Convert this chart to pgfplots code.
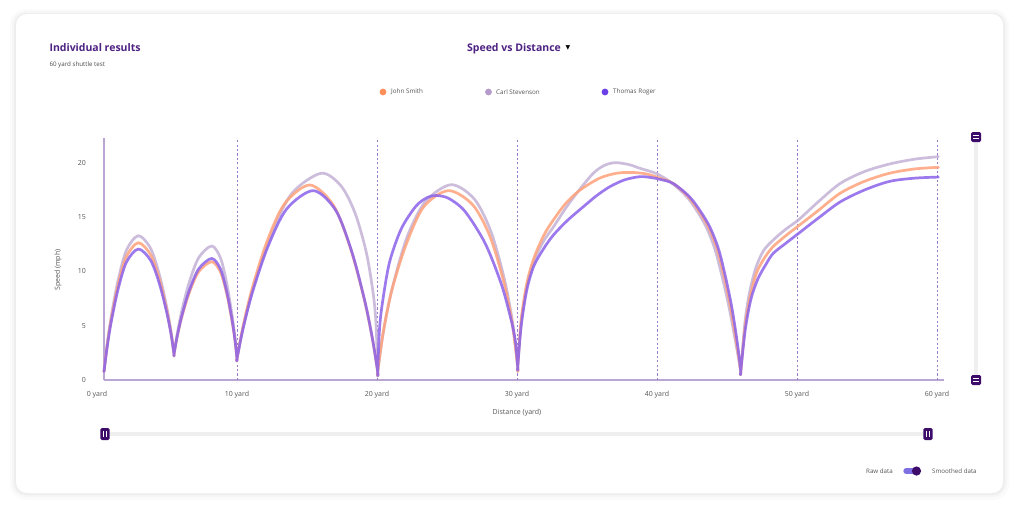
\documentclass[border=0pt]{standalone}
\usepackage{pgfplots}
\pgfplotsset{compat=1.18}
\usepackage{fontspec}
\setmainfont{Open Sans}
\newfontfamily\symfont{DejaVu Sans}

\definecolor{titlepurple}{HTML}{4E2283}
\definecolor{txtgray}{HTML}{555555}
\definecolor{axisline}{HTML}{B9A6D2}
\definecolor{gridpurple}{HTML}{9A7CC8}
\definecolor{johnline}{HTML}{FFA27A}
\definecolor{carlline}{HTML}{C4B2D6}
\definecolor{thomasline}{HTML}{8B63EA}
\definecolor{johndot}{HTML}{FF8F5A}
\definecolor{carldot}{HTML}{B59ACB}
\definecolor{thomasdot}{HTML}{6B40E6}
\definecolor{handle}{HTML}{3D0C6B}
\definecolor{track}{HTML}{EFEFEF}
\definecolor{toggle}{HTML}{7E6FE2}

\begin{document}
\begin{tikzpicture}
\useasboundingbox (0,0) rectangle (1024pt,-512pt);
% card with a soft shadow
\fill[black,opacity=0.015,rounded corners=16pt] (10pt,-9pt) rectangle (1009pt,-500pt);
\fill[black,opacity=0.02,rounded corners=14pt] (12pt,-11pt) rectangle (1007pt,-497pt);
\fill[black,opacity=0.03,rounded corners=12pt] (14pt,-13pt) rectangle (1005pt,-495pt);
\fill[white,rounded corners=11pt] (16pt,-14pt) rectangle (1003pt,-493pt);

% headings
\node[anchor=west,text=titlepurple,font=\fontsize{10.5}{12}\selectfont\bfseries] at (46pt,-48pt) {Individual results};
\node[anchor=west,text=txtgray!90!black,font=\fontsize{6.2}{7}\selectfont] at (46pt,-64.5pt) {60 yard shuttle test};
\node[text=titlepurple,font=\fontsize{10.5}{12}\selectfont\bfseries] at (514pt,-49pt) {Speed vs Distance};
\node[font=\fontsize{6}{7}\selectfont\symfont] at (568pt,-47.5pt) {▼};

% legend
\fill[johndot] (383pt,-92pt) circle (3.4pt);
\node[anchor=west,text=txtgray,font=\fontsize{6.3}{7}\selectfont,inner sep=0pt] at (391pt,-92pt) {John Smith};
\fill[carldot] (488.5pt,-92pt) circle (3.4pt);
\node[anchor=west,text=txtgray,font=\fontsize{6.3}{7}\selectfont,inner sep=0pt] at (496pt,-92pt) {Carl Stevenson};
\fill[thomasdot] (605pt,-92pt) circle (3.4pt);
\node[anchor=west,text=txtgray,font=\fontsize{6.3}{7}\selectfont,inner sep=0pt] at (613pt,-92pt) {Thomas Roger};

% axis titles
\node[text=txtgray,font=\fontsize{7}{8}\selectfont] at (517pt,-413pt) {Distance (yard)};
\node[text=txtgray,font=\fontsize{7}{8}\selectfont,rotate=90] at (58pt,-270pt) {Speed (mph)};

\begin{axis}[
  at={(90pt,-380pt)}, anchor=south west,
  scale only axis, width=854pt, height=242pt,
  xmin=-0.5, xmax=60.5, ymin=0, ymax=22.3,
  axis line style={draw=none},
  major tick length=0pt,
  xtick={0,10,...,60},
  xticklabels={0 yard,10 yard,20 yard,30 yard,40 yard,50 yard,60 yard},
  ytick={0,5,...,20},
  tick label style={font=\fontsize{7}{8}\selectfont, text=txtgray},
  xticklabel style={yshift=-8pt},
  yticklabel style={xshift=-0.5pt},
  /pgf/number format/assume math mode=true,
  clip=false,
  every axis plot/.append style={smooth, line width=2.7pt, opacity=0.85, line join=round, line cap=round},
]
\draw[axisline, line width=1.2pt] (axis cs:0.5,0) -- (axis cs:60.5,0);
\draw[axisline, line width=1.2pt] (axis cs:0.5,0) -- (axis cs:0.5,22.3);
\pgfplotsinvokeforeach{10,20,30,40,50,60}{
  \draw[gridpurple, dash pattern=on 2.2pt off 2.2pt, line width=0.9pt] (axis cs:#1,0) -- (axis cs:#1,22.3);
}

% Carl Stevenson
\addplot[carlline] coordinates {
(0.5,0.77) (0.70,3.03) (0.99,5.66) (1.48,9.04) (2.09,11.92) (2.95,13.3) (3.84,12.10) (4.48,9.59) (4.99,6.65) (5.30,4.36) (5.5,2.4) (5.5,2.4)
(5.72,4.19) (6.04,6.28) (6.58,8.97) (7.26,11.26) (8.2,12.35) (8.83,11.21) (9.28,8.83) (9.64,6.04) (9.86,3.86) (10,2.0) (10,2.0)
(10.48,5.07) (11.2,8.65) (12.4,13.25) (13.9,17.17) (16.0,19.05) (17.42,17.9) (18.43,15.39) (19.24,11.74) (19.73,7.94) (19.93,5.16) (20.05,0.77) (20.05,0.77)
(20.47,4.56) (21.1,8.52) (22.15,13.18) (23.46,16.45) (25.3,18.0) (26.96,16.66) (28.15,13.64) (29.1,9.28) (29.67,5.42) (30.05,1.23) (30.05,1.23)
(30.3,5.3) (30.7,8.6) (31.2,10.9) (31.9,12.8) (32.6,14.1) (33.55,15.97) (34.5,17.6) (35.45,19.05) (36.2,19.75) (37.0,20.03) (38.0,19.85) (38.8,19.5) (40.0,19.0) (41.1,18.1) (42.25,16.7) (43.4,14.4) (44.1,12.2) (44.6,9.8) (45.1,7.0) (45.5,4.3) (45.82,2.0) (45.98,0.77) (45.98,0.77)
(46.27,5.2) (46.6,8.0) (47.05,10.3) (47.6,11.9) (48.3,12.9) (49.2,13.9) (50.1,14.75) (51.5,16.4) (53.07,18.1) (54.8,19.2) (56.6,19.9) (58.4,20.35) (60.1,20.58)
};
% John Smith
\addplot[johnline] coordinates {
(0.5,0.77) (0.70,2.91) (0.99,5.40) (1.48,8.61) (2.09,11.34) (2.95,12.65) (3.84,11.52) (4.48,9.17) (4.99,6.40) (5.30,4.25) (5.5,2.4) (5.5,2.4)
(5.72,3.93) (6.04,5.72) (6.58,8.01) (7.26,9.97) (8.2,10.9) (8.83,9.92) (9.28,7.87) (9.64,5.47) (9.86,3.60) (10,2.0) (10,2.0)
(10.42,4.87) (11.04,8.23) (12.08,12.54) (13.38,16.21) (15.2,17.97) (16.9,16.08) (18.11,12.12) (19.08,7.48) (19.66,3.87) (20.05,0.77) (20.05,0.77)
(20.45,4.44) (21.06,8.28) (22.07,12.45) (23.33,15.95) (25.1,17.45) (26.83,16.15) (28.07,13.23) (29.06,9.02) (29.65,5.29) (30.05,1.23) (30.05,1.23)
(30.3,5.6) (30.7,8.9) (31.2,11.2) (31.9,13.3) (32.6,14.75) (33.5,16.3) (34.5,17.5) (35.9,18.6) (37.1,19.05) (38.1,19.13) (39.2,19.0) (40.2,18.6) (41.17,18.1) (42.36,16.7) (43.55,14.4) (44.26,12.2) (44.74,9.8) (45.21,7.0) (45.57,4.3) (45.85,2.0) (45.98,0.77) (45.98,0.77)
(46.29,4.9) (46.64,7.6) (47.12,9.9) (47.7,11.3) (48.3,12.3) (49.2,13.3) (50.1,14.2) (51.5,15.6) (53.07,17.2) (54.8,18.3) (56.6,19.05) (58.4,19.45) (60.1,19.6)
};
% Thomas Roger
\addplot[thomasline] coordinates {
(0.5,0.77) (0.70,2.80) (0.99,5.18) (1.48,8.23) (2.09,10.83) (2.95,12.07) (3.84,11.01) (4.48,8.78) (4.99,6.17) (5.30,4.14) (5.5,2.4) (5.5,2.4)
(5.72,3.98) (6.04,5.83) (6.58,8.21) (7.26,10.23) (8.2,11.2) (8.83,10.19) (9.28,8.07) (9.64,5.59) (9.86,3.66) (10,2.0) (10,2.0)
(10.44,4.78) (11.09,8.03) (12.18,12.2) (13.54,15.75) (15.45,17.45) (17.06,15.62) (18.21,11.78) (19.13,7.28) (19.68,3.77) (20.05,0.77) (20.05,0.77)
(20.18,4.71) (20.39,7.13) (20.89,10.83) (21.73,13.92) (22.79,16.03) (23.63,16.84) (24.26,17.0) (25.13,16.73) (26.29,15.53) (27.73,12.58) (28.89,8.8) (29.59,5.49) (29.88,3.6) (30.05,1.23) (30.05,1.23)
(30.3,5.0) (30.7,8.3) (31.2,10.5) (31.9,12.1) (32.6,13.36) (33.6,14.7) (34.74,15.97) (35.7,17.0) (36.64,17.82) (37.7,18.45) (38.79,18.74) (39.6,18.65) (40.21,18.49) (41.17,18.1) (42.45,16.7) (43.65,14.4) (44.36,12.2) (44.84,9.8) (45.3,7.0) (45.64,4.3) (45.88,2.0) (45.98,0.77) (45.98,0.77)
(46.3,4.6) (46.7,7.4) (47.2,9.3) (47.8,10.7) (48.3,11.67) (49.2,12.6) (50.1,13.5) (51.5,14.9) (53.07,16.4) (54.8,17.5) (56.6,18.3) (58.4,18.6) (60.1,18.7)
};
\end{axis}

% vertical range slider
\draw[track, line width=4pt] (976pt,-137pt) -- (976pt,-380pt);
\foreach \yy in {137,380} {
  \fill[handle, rounded corners=1.5pt] (971pt,-\yy pt+5pt) rectangle (981pt,-\yy pt-5pt);
  \draw[white, line width=0.8pt] (973.3pt,-\yy pt+1.5pt) -- (978.7pt,-\yy pt+1.5pt);
  \draw[white, line width=0.8pt] (973.3pt,-\yy pt-1.5pt) -- (978.7pt,-\yy pt-1.5pt);
}
% horizontal range slider
\draw[track, line width=4.5pt] (105pt,-434pt) -- (928pt,-434pt);
\foreach \xx in {105,928} {
  \fill[handle, rounded corners=1.5pt] (\xx pt-4.7pt,-428pt) rectangle (\xx pt+4.7pt,-440pt);
  \draw[white, line width=0.8pt] (\xx pt-1.5pt,-431pt) -- (\xx pt-1.5pt,-437pt);
  \draw[white, line width=0.8pt] (\xx pt+1.5pt,-431pt) -- (\xx pt+1.5pt,-437pt);
}
% raw / smoothed toggle
\node[anchor=east,text=txtgray,font=\fontsize{6.2}{7}\selectfont,inner sep=0pt] at (893pt,-471pt) {Raw data};
\draw[toggle, line width=5.3pt, line cap=round] (906pt,-471pt) -- (916pt,-471pt);
\fill[handle] (916.5pt,-471pt) circle (4.6pt);
\node[anchor=west,text=txtgray,font=\fontsize{6.2}{7}\selectfont,inner sep=0pt] at (932pt,-471pt) {Smoothed data};
\end{tikzpicture}
\end{document}
